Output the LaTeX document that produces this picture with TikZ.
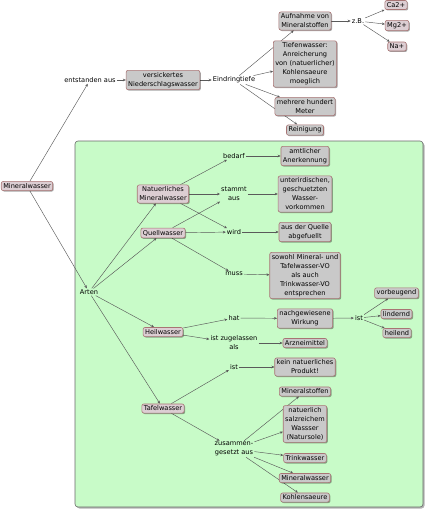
\documentclass[tikz,border=0pt]{standalone}
\usepackage{fontspec}
\setmainfont{DejaVu Sans}
\usetikzlibrary{arrows.meta,shadows}
\definecolor{boxgray}{HTML}{C9C9C9}
\definecolor{boxpink}{HTML}{DCCED3}
\definecolor{boxborder}{HTML}{A87474}
\definecolor{panelgreen}{HTML}{C8FBC8}
\definecolor{panelborder}{HTML}{6A6A6A}
\definecolor{linegray}{HTML}{5A5A5A}
\pgfdeclarelayer{bg}
\pgfdeclarelayer{edges}
\pgfsetlayers{bg,edges,main}
\tikzset{
  txt/.style={font=\fontsize{6.6}{9}\selectfont},
  concept/.style={txt, draw=boxborder, fill=boxgray, rounded corners=2pt, line width=0.6pt,
    inner xsep=2pt, inner ysep=2pt, align=center,
    drop shadow={shadow xshift=1pt, shadow yshift=-1pt, fill=black, opacity=0.35}},
  mainconcept/.style={concept, fill=boxpink},
  lbl/.style={txt, inner sep=1pt, align=center},
  conn/.style={draw=linegray, line width=0.45pt, -{Stealth[length=3pt,width=2.6pt]}}
}
\begin{document}
\begin{tikzpicture}[x=1pt,y=-1pt]
\useasboundingbox (0,0) rectangle (427,509);
% panel
\begin{pgfonlayer}{bg}
\fill[black,opacity=0.3,rounded corners=3pt] (76.5,142.5) rectangle (424.5,508.5);
\draw[panelborder, fill=panelgreen, line width=0.6pt, rounded corners=3pt] (75,141) rectangle (423,507);
\end{pgfonlayer}
% upper part
\node[mainconcept] (mw) at (27,186) {Mineralwasser};
\node[lbl] (entst) at (90,80) {entstanden aus};
\node[concept] (vers) at (163,80) {versickertes\\Niederschlagswasser};
\node[lbl] (eind) at (234,80) {Eindringtiefe};
\node[concept] (aufn) at (305,21) {Aufnahme von\\Mineralstoffen};
\node[lbl] (zb) at (358,21) {z.B.};
\node[mainconcept] (ca) at (396,5) {Ca2+};
\node[mainconcept] (mg) at (397,25.5) {Mg2+};
\node[mainconcept] (na) at (397,46.5) {Na+};
\node[concept] (tief) at (305,64) {Tiefenwasser:\\Anreicherung\\von (natuerlicher)\\Kohlensaeure\\moeglich};
\node[concept] (mehr) at (305,106.5) {mehrere hundert\\Meter};
\node[concept] (rein) at (305,130) {Reinigung};
% panel contents
\node[lbl] (arten) at (89,292) {Arten};
\node[mainconcept] (nat) at (163,194) {Natuerliches\\Mineralwasser};
\node[mainconcept] (quell) at (163,233) {Quellwasser};
\node[mainconcept] (heil) at (163,332) {Heilwasser};
\node[mainconcept] (tafel) at (163,408.5) {Tafelwasser};
\node[lbl] (bedarf) at (234,156) {bedarf};
\node[lbl] (stammt) at (234,194) {stammt\\aus};
\node[lbl] (wird) at (234,232) {wird};
\node[lbl] (muss) at (234,274) {muss};
\node[concept] (amtl) at (305,156) {amtlicher\\Anerkennung};
\node[concept] (unter) at (305,194) {unterirdischen,\\geschuetzten\\Wasser-\\vorkommen};
\node[concept] (ausq) at (305,232) {aus der Quelle\\abgefuellt};
\node[concept] (sowohl) at (305,275.5) {sowohl Mineral- und\\Tafelwasser-VO\\als auch\\Trinkwasser-VO\\entsprechen};
\node[lbl] (hat) at (234,318) {hat};
\node[lbl] (zugel) at (234,343) {ist zugelassen\\als};
\node[concept] (nachg) at (305,318.5) {nachgewiesene\\Wirkung};
\node[lbl] (ist1) at (359,318) {ist};
\node[concept] (vorb) at (396.5,293) {vorbeugend};
\node[concept] (lind) at (396.5,314) {lindernd};
\node[concept] (heilend) at (397,333) {heilend};
\node[concept] (arznei) at (305,343) {Arzneimittel};
\node[lbl] (ist2) at (234,367) {ist};
\node[concept] (kein) at (305,367) {kein natuerliches\\Produkt!};
\node[lbl] (zus) at (234,449) {zusammen-\\gesetzt aus};
\node[concept] (minst) at (305,391.5) {Mineralstoffen};
\node[concept] (salz) at (305,424) {natuerlich\\salzreichem\\Wassser\\(Natursole)};
\node[concept] (trink) at (305,458) {Trinkwasser};
\node[concept] (mw2) at (305,478) {Mineralwasser};
\node[concept] (kohl) at (305,497.5) {Kohlensaeure};
% connectors
\begin{pgfonlayer}{edges}
\draw[conn] (mw) -- (entst);
\draw[conn] (mw) -- (arten);
\draw[conn] (entst) -- (vers);
\draw[conn] (vers) -- (eind);
\draw[conn] (eind) -- (aufn);
\draw[conn] (eind) -- (tief);
\draw[conn] (eind) -- (mehr);
\draw[conn] (eind) -- (rein);
\draw[conn] (aufn) -- (zb);
\draw[conn] (zb) -- (ca);
\draw[conn] (zb) -- (mg);
\draw[conn] (zb) -- (na);
\draw[conn] (arten) -- (nat);
\draw[conn] (arten) -- (quell);
\draw[conn] (arten) -- (heil);
\draw[conn] (arten) -- (tafel);
\draw[conn] (nat) -- (bedarf);
\draw[conn] (nat) -- (stammt);
\draw[conn] (nat) -- (wird);
\draw[conn] (quell) -- (stammt);
\draw[conn] (quell) -- (wird);
\draw[conn] (quell) -- (muss);
\draw[conn] (bedarf) -- (amtl);
\draw[conn] (stammt) -- (unter);
\draw[conn] (wird) -- (ausq);
\draw[conn] (muss) -- (sowohl);
\draw[conn] (heil) -- (hat);
\draw[conn] (heil) -- (zugel);
\draw[conn] (hat) -- (nachg);
\draw[conn] (nachg) -- (ist1);
\draw[conn] (ist1) -- (vorb);
\draw[conn] (ist1) -- (lind);
\draw[conn] (ist1) -- (heilend);
\draw[conn] (zugel) -- (arznei);
\draw[conn] (tafel) -- (ist2);
\draw[conn] (ist2) -- (kein);
\draw[conn] (tafel) -- (zus);
\draw[conn] (zus) -- (minst);
\draw[conn] (zus) -- (salz);
\draw[conn] (zus) -- (trink);
\draw[conn] (zus) -- (mw2);
\draw[conn] (zus) -- (kohl);
\end{pgfonlayer}
\end{tikzpicture}
\end{document}
